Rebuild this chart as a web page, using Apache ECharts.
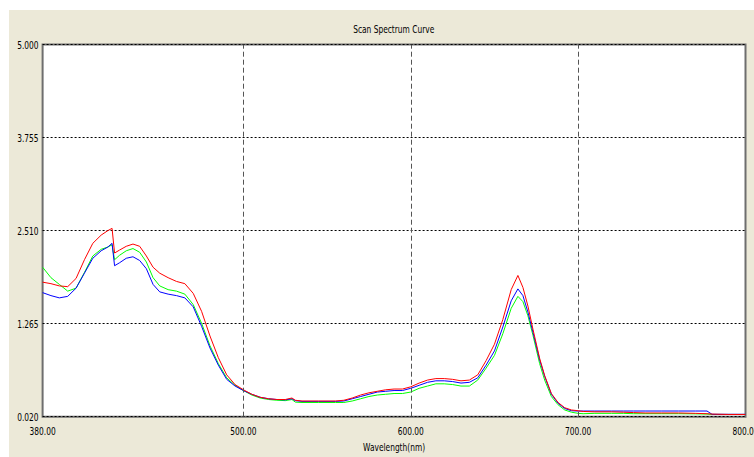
<!DOCTYPE html>
<html><head><meta charset="utf-8">
<script src="https://cdn.jsdelivr.net/npm/echarts@6/dist/echarts.min.js"></script>
<style>html,body{margin:0;padding:0;background:#fff;overflow:hidden}#c{position:absolute;left:9px;top:10px;width:745px;height:447px}</style>
</head><body><div id="c"></div>
<script>
const chartTitle = 'Scan Spectrum Curve';
const xName = 'Wavelength(nm)';
const xTickValues = [380, 500, 600, 700, 800];
const xGridValues = [500, 600, 700];
const yMin = 0.020, yMax = 5.000, yStep = 1.245;
const wavelengths = [380,385,390,395,400,405,410,415,419,421.5,
  423,426,430,434,438,442,446,450,455,460,
  465,470,475,480,485,490,495,500,505,510,
  515,520,525,529,531,535,545,555,560,565,
  570,575,580,585,590,595,600,605,610,615,
  620,625,630,635,640,645,650,655,660,664,
  667,670,673,677,680,684,688,692,696,700,
  703,710,720,727,733,740,750,760,770,777,
  780,790,800];
const red = [1.82,1.80,1.77,1.76,1.87,2.12,2.34,2.45,2.51,2.54,
  2.21,2.25,2.30,2.33,2.30,2.17,2.02,1.94,1.88,1.83,
  1.80,1.67,1.43,1.10,0.81,0.58,0.45,0.38,0.32,0.28,
  0.26,0.25,0.25,0.27,0.24,0.23,0.23,0.23,0.24,0.27,
  0.31,0.34,0.36,0.38,0.39,0.39,0.42,0.47,0.51,0.53,
  0.53,0.52,0.50,0.51,0.58,0.77,0.99,1.32,1.72,1.91,
  1.75,1.50,1.19,0.80,0.57,0.33,0.21,0.14,0.11,0.10,
  0.09,0.085,0.085,0.08,0.075,0.07,0.07,0.07,0.065,0.06,
  0.055,0.05,0.05];
const green = [2.02,1.88,1.79,1.70,1.74,1.95,2.17,2.26,2.29,2.32,
  2.12,2.18,2.24,2.27,2.22,2.09,1.88,1.77,1.72,1.70,
  1.66,1.52,1.27,0.97,0.73,0.54,0.44,0.37,0.31,0.27,
  0.25,0.24,0.235,0.25,0.215,0.21,0.21,0.21,0.21,0.23,
  0.26,0.29,0.31,0.32,0.33,0.33,0.35,0.40,0.43,0.46,
  0.46,0.45,0.43,0.43,0.51,0.67,0.84,1.13,1.47,1.63,
  1.56,1.37,1.11,0.73,0.51,0.29,0.18,0.11,0.08,0.065,
  0.06,0.065,0.065,0.065,0.06,0.06,0.06,0.06,0.058,0.055,
  0.05,0.05,0.05];
const blue = [1.68,1.64,1.61,1.63,1.74,1.94,2.14,2.24,2.29,2.34,
  2.04,2.08,2.14,2.16,2.11,2.00,1.79,1.69,1.66,1.64,
  1.61,1.49,1.23,0.94,0.71,0.52,0.43,0.37,0.32,0.28,
  0.26,0.25,0.245,0.26,0.235,0.225,0.225,0.225,0.23,0.26,
  0.29,0.32,0.35,0.36,0.37,0.37,0.40,0.44,0.48,0.50,
  0.50,0.49,0.47,0.48,0.54,0.71,0.90,1.22,1.57,1.73,
  1.64,1.42,1.15,0.78,0.56,0.32,0.20,0.13,0.10,0.095,
  0.096,0.096,0.096,0.096,0.096,0.096,0.096,0.096,0.096,0.096,
  0.052,0.052,0.052];

const FONT = "'DejaVu Sans',sans-serif";
const SQUEEZE = 0.68;
const pairs = arr => wavelengths.map((w, i) => [w, arr[i]]);
const chart = echarts.init(document.getElementById('c'), null, {renderer: 'svg'});
const mkSeries = (name, arr, color, extra) => Object.assign({
  name, type: 'line', data: pairs(arr), symbol: 'none', showSymbol: false,
  lineStyle: {color, width: 1}, itemStyle: {color}, animation: false, silent: true
}, extra || {});
chart.setOption({
  backgroundColor: '#ECE9D8',
  animation: false,
  graphic: [{
    type: 'text', x: 384.7, y: 18.7, silent: true,
    style: {text: chartTitle, fill: '#000', font: '11px ' + FONT, textAlign: 'center', textVerticalAlign: 'middle'}
  }],
  grid: {
    left: 33.6, right: 8.5, top: 34.5, bottom: 40.3, show: true, outerBoundsMode: 'none', containLabel: false,
    backgroundColor: '#fff', borderColor: '#6e6e6e', borderWidth: 2
  },
  xAxis: {
    type: 'value', min: 380, max: 800, interval: 20,
    name: xName, nameLocation: 'middle', nameGap: 24,
    nameTextStyle: {fontFamily: FONT, fontSize: 11, color: '#000'},
    axisLine: {show: false}, axisTick: {show: false}, splitLine: {show: false},
    axisLabel: {
      fontFamily: FONT, fontSize: 11, color: '#000', margin: 9, showMinLabel: true, showMaxLabel: true,
      formatter: v => xTickValues.indexOf(Math.round(v)) >= 0 ? v.toFixed(2) : ''
    }
  },
  yAxis: {
    type: 'value', min: yMin, max: yMax, interval: yStep,
    axisLine: {show: false}, axisTick: {show: false},
    splitLine: {show: true, lineStyle: {color: '#000', width: 1, type: [2, 2]}},
    axisLabel: {fontFamily: FONT, fontSize: 11, color: '#000', margin: 4,
      formatter: v => v.toFixed(3)}
  },
  series: [
    mkSeries('green', green, '#00ff00', {
      markLine: {
        silent: true, symbol: 'none', animation: false, label: {show: false},
        lineStyle: {color: '#555', width: 1, type: [5, 3]},
        data: xGridValues.map(v => ({xAxis: v}))
      }
    }),
    mkSeries('blue', blue, '#0000ff'),
    mkSeries('red', red, '#ff0000')
  ]
});
// narrow the text horizontally (the reference uses a condensed face)
function squeeze() {
  const svg = document.querySelector('#c svg');
  if (!svg) return;
  svg.querySelectorAll('text').forEach(t => {
    if (t.getAttribute('data-sq')) return;
    const x = parseFloat(t.getAttribute('x') || 0), y = parseFloat(t.getAttribute('y') || 0);
    const tr = t.getAttribute('transform') || '';
    t.setAttribute('transform', (tr + ' translate(' + x + ' ' + y + ') scale(' + SQUEEZE + ' 1) translate(' + (-x) + ' ' + (-y) + ')').trim());
    t.setAttribute('data-sq', '1');
  });
}
squeeze();
chart.on('finished', squeeze);
setTimeout(squeeze, 50);
</script></body></html>
